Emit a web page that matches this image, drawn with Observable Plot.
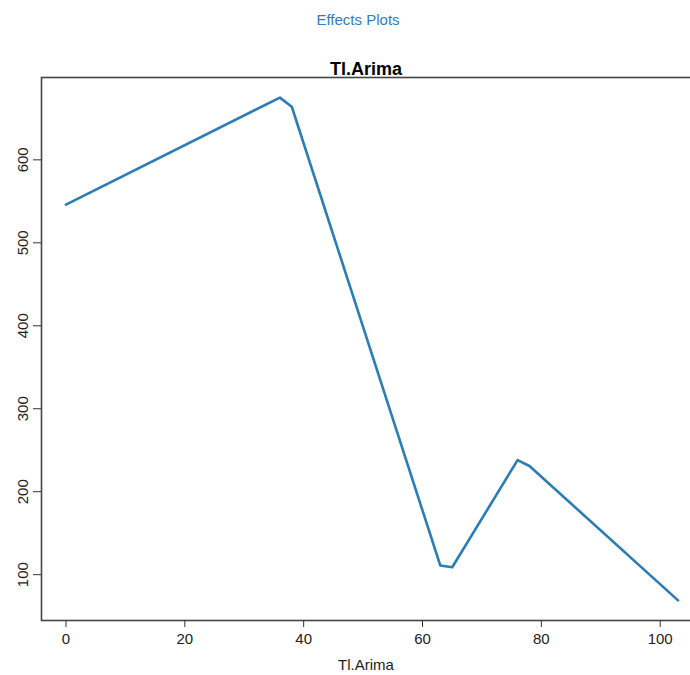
<!DOCTYPE html>
<html>
<head>
<meta charset="utf-8">
<script src="https://cdn.jsdelivr.net/npm/d3@7"></script>
<script src="https://cdn.jsdelivr.net/npm/@observablehq/plot@0.6"></script>
<style>
  html, body { margin: 0; padding: 0; background: #fff; overflow: hidden; }
  body { width: 690px; height: 675px; font-family: "Liberation Sans", Arial, sans-serif; }
  #head { height: 40px; text-align: center; color: #2f7ebd; font-size: 15px; line-height: 40px; padding-left: 26px; box-sizing: border-box; }
  svg { display: block; }
</style>
</head>
<body>
<div id="head">Effects Plots</div>
<div id="chart"></div>
<script>
const pageTitle = "Effects Plots";
const panelTitle = "Tl.Arima";
const xLabel = "Tl.Arima";
const xValues = [0, 36, 38, 63, 65, 76, 78, 103];
const yValues = [546, 675, 664, 111, 109, 238, 231, 69];
const xTicks = [0, 20, 40, 60, 80, 100];
const yTicks = [100, 200, 300, 400, 500, 600];

const data = xValues.map((x, i) => ({x, y: yValues[i]}));
const xMin = d3.min(xValues), xMax = d3.max(xValues);
const yMin = d3.min(yValues), yMax = d3.max(yValues);
const xPad = (xMax - xMin) * 0.04, yPad = (yMax - yMin) * 0.04;

const chart = Plot.plot({
  width: 690,
  height: 635,
  marginLeft: 41,
  marginRight: -12,
  marginTop: 37,
  marginBottom: 55,
  style: {fontFamily: "Liberation Sans, Arial, sans-serif", fontSize: "15px", color: "#222", background: "#fff"},
  x: {domain: [xMin - xPad, xMax + xPad], label: null},
  y: {domain: [yMin - yPad, yMax + yPad], label: null},
  marks: [
    Plot.frame({stroke: "#444", strokeWidth: 1.6}),
    Plot.axisX({ticks: xTicks, tickSize: 7, tickPadding: 6, fontSize: 15, stroke: "#333", fill: "#222", label: null}),
    Plot.axisY({ticks: yTicks, tickSize: 8, tickPadding: 6, tickRotate: -90, fontSize: 15, stroke: "#333", fill: "#222", label: null}),
    Plot.line(data, {x: "x", y: "y", stroke: "#2a7db6", strokeWidth: 2.6, strokeLinejoin: "round"}),
    Plot.text([panelTitle], {frameAnchor: "top", lineAnchor: "bottom", dx: -6, dy: -3, fontWeight: "bold", fontSize: 18, fill: "#000"}),
    Plot.text([xLabel], {frameAnchor: "bottom", lineAnchor: "bottom", dx: -6, dy: 49, fontSize: 15, fill: "#222"})
  ]
});
document.getElementById("chart").appendChild(chart);
</script>
</body>
</html>
